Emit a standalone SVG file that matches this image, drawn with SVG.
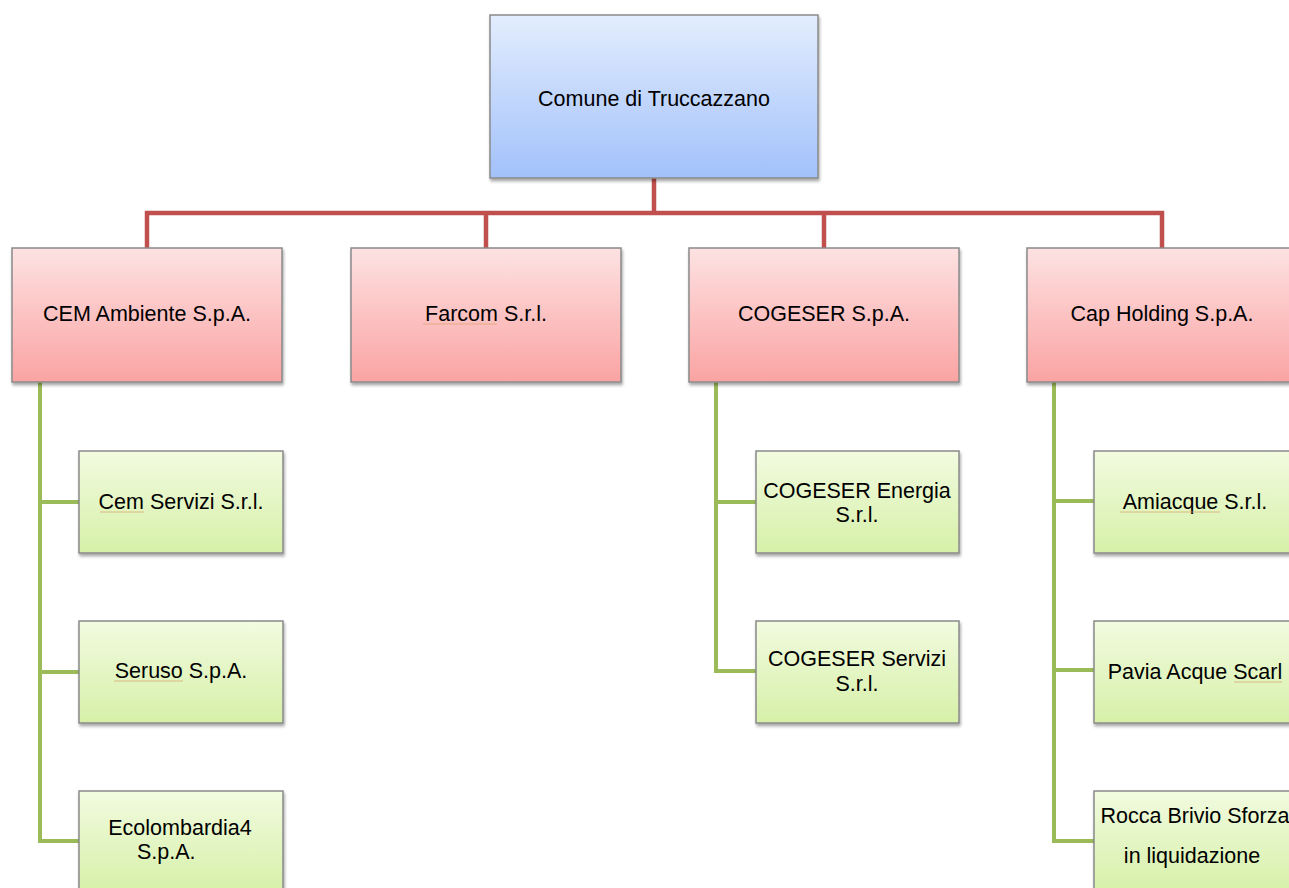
<svg xmlns="http://www.w3.org/2000/svg" width="1289" height="888" viewBox="0 0 1289 888">
<defs>
<linearGradient id="gBlue" x1="0" y1="0" x2="0" y2="1"><stop offset="0" stop-color="#e3edfd"/><stop offset="1" stop-color="#a2c1fb"/></linearGradient>
<linearGradient id="gRed" x1="0" y1="0" x2="0" y2="1"><stop offset="0" stop-color="#fde2e2"/><stop offset="1" stop-color="#fba3a3"/></linearGradient>
<linearGradient id="gGreen" x1="0" y1="0" x2="0" y2="1"><stop offset="0" stop-color="#f2fbe0"/><stop offset="1" stop-color="#d6f0a8"/></linearGradient>
<filter id="sh" x="-5%" y="-5%" width="112%" height="115%"><feDropShadow dx="1" dy="2.5" stdDeviation="1.5" flood-color="#000" flood-opacity="0.35"/></filter>
</defs>
<style>
.box{stroke:#8a8a8a;stroke-width:1.5;filter:url(#sh)}
.root{fill:url(#gBlue)}
.l1{fill:url(#gRed)}
.l2{fill:url(#gGreen)}
.t{font-family:"Liberation Sans",Arial,sans-serif;font-size:21.5px;fill:#000;text-anchor:middle}
.tl{font-family:"Liberation Sans",Arial,sans-serif;font-size:21.5px;fill:#000}
.red{fill:none;stroke:#c0504d;stroke-width:4.5}
.green{fill:none;stroke:#9bbb59;stroke-width:4}
.sq{stroke:#d9a066;stroke-width:1;opacity:0.7}
</style>
<rect width="1289" height="888" fill="#fff"/>
<g id="connectors">
<path class="red" d="M654 178V213M147 248V213H1162V248M486 213V248M824 213V248"/>
<path class="green" d="M40 382V841H80M40 502H80M40 672H80"/>
<path class="green" d="M716 382V671H756M716 502H756"/>
<path class="green" d="M1054 382V841H1094M1054 501H1094M1054 670H1094"/>
</g>
<g id="root"><rect class="box root" x="490" y="15" width="328" height="163"/><text class="t" x="654" y="106">Comune di Truccazzano</text></g>
<g id="cem"><rect class="box l1" x="12" y="248" width="270" height="134"/><text class="t" x="147" y="321">CEM Ambiente S.p.A.</text></g>
<g id="farcom"><rect class="box l1" x="351" y="248" width="270" height="134"/><text class="t" x="486" y="321">Farcom S.r.l.</text><line class="sq" x1="423" y1="324" x2="497" y2="324"/></g>
<g id="cogeser"><rect class="box l1" x="689" y="248" width="270" height="134"/><text class="t" x="824" y="321">COGESER S.p.A.</text></g>
<g id="cap"><rect class="box l1" x="1027" y="248" width="272" height="134"/><text class="t" x="1162" y="321">Cap Holding S.p.A.</text></g>
<g id="cemservizi"><rect class="box l2" x="79" y="451" width="204" height="102"/><text class="t" x="181" y="509">Cem Servizi S.r.l.</text><line class="sq" x1="100" y1="512" x2="144" y2="512"/></g>
<g id="seruso"><rect class="box l2" x="79" y="621" width="204" height="102"/><text class="t" x="181" y="678">Seruso S.p.A.</text><line class="sq" x1="114" y1="681" x2="183" y2="681"/></g>
<g id="ecolombardia"><rect class="box l2" x="79" y="791" width="204" height="102"/><text class="t" x="180" y="835">Ecolombardia4</text><text class="tl" x="137" y="859">S.p.A.</text></g>
<g id="cogeserenergia"><rect class="box l2" x="756" y="451" width="203" height="102"/><text class="t" x="857" y="498">COGESER Energia</text><text class="t" x="857" y="522">S.r.l.</text></g>
<g id="cogeserservizi"><rect class="box l2" x="756" y="621" width="203" height="102"/><text class="t" x="857" y="666">COGESER Servizi</text><text class="t" x="857" y="691">S.r.l.</text></g>
<g id="amiacque"><rect class="box l2" x="1094" y="451" width="205" height="102"/><text class="t" x="1195" y="509">Amiacque S.r.l.</text><line class="sq" x1="1120" y1="512" x2="1220" y2="512"/></g>
<g id="pavia"><rect class="box l2" x="1094" y="621" width="205" height="102"/><text class="t" x="1195" y="679">Pavia Acque Scarl</text><line class="sq" x1="1234" y1="682" x2="1282" y2="682"/></g>
<g id="rocca"><rect class="box l2" x="1094" y="791" width="205" height="102"/><text class="t" x="1195" y="823">Rocca Brivio Sforza</text><text class="t" x="1192" y="863">in liquidazione</text></g>
</svg>
